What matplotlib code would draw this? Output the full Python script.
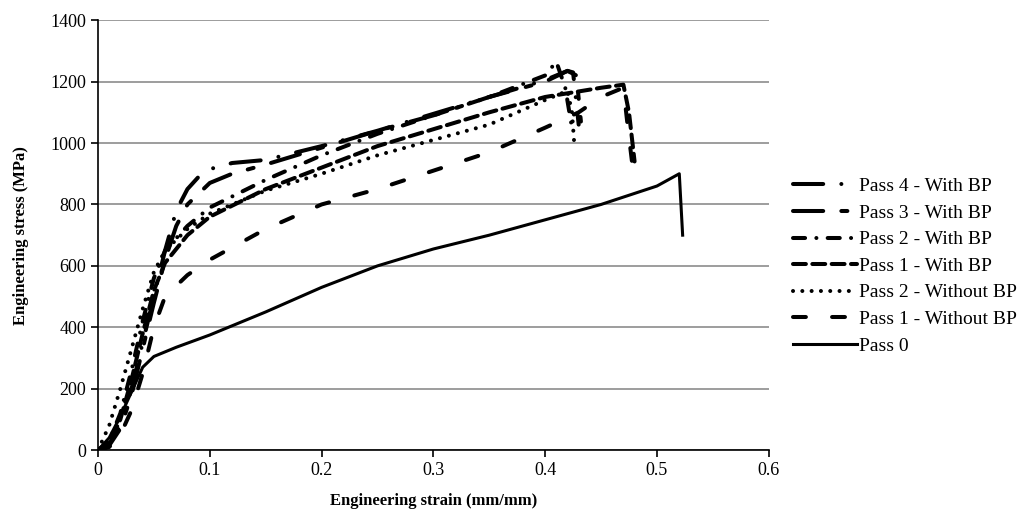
import numpy as np
import matplotlib.pyplot as plt

plt.rcParams['font.family'] = ['Liberation Serif', 'DejaVu Serif']

# data (strain mm/mm, stress MPa)
labels = ['Pass 4 - With BP', 'Pass 3 - With BP', 'Pass 2 - With BP',
          'Pass 1 - With BP', 'Pass 2 - Without BP', 'Pass 1 - Without BP',
          'Pass 0']

p4_x = [0, 0.01, 0.02, 0.03, 0.04, 0.05, 0.06, 0.07, 0.08, 0.09, 0.1, 0.12,
        0.15, 0.2, 0.25, 0.3, 0.35, 0.4, 0.42, 0.425, 0.43]
p4_y = [0, 20, 80, 200, 350, 500, 650, 780, 850, 890, 915, 935,
        945, 990, 1040, 1095, 1150, 1205, 1235, 1230, 1060]

p3_x = [0, 0.01, 0.02, 0.03, 0.04, 0.05, 0.06, 0.07, 0.08, 0.1, 0.12, 0.15,
        0.2, 0.25, 0.3, 0.35, 0.4, 0.42, 0.428, 0.432]
p3_y = [0, 15, 70, 180, 330, 480, 620, 730, 800, 870, 900, 930,
        985, 1040, 1090, 1150, 1200, 1235, 1220, 1070]

p2wb_x = [0, 0.01, 0.02, 0.03, 0.04, 0.05, 0.06, 0.08, 0.1, 0.15, 0.2, 0.25,
          0.3, 0.35, 0.4, 0.41, 0.418, 0.424]
p2wb_y = [0, 30, 120, 260, 420, 560, 650, 730, 790, 880, 960, 1030,
          1090, 1150, 1220, 1265, 1180, 1050]

p1wb_x = [0, 0.01, 0.02, 0.03, 0.04, 0.05, 0.06, 0.08, 0.1, 0.15, 0.2, 0.25,
          0.3, 0.35, 0.4, 0.45, 0.47, 0.475, 0.48]
p1wb_y = [0, 20, 100, 230, 380, 520, 610, 700, 760, 850, 920, 990,
          1045, 1100, 1150, 1180, 1190, 1100, 940]

p2nb_x = [0, 0.01, 0.02, 0.03, 0.04, 0.05, 0.06, 0.08, 0.1, 0.15, 0.2, 0.25,
          0.3, 0.35, 0.4, 0.42, 0.424, 0.426]
p2nb_y = [0, 80, 200, 330, 460, 580, 650, 720, 770, 845, 900, 960,
          1010, 1060, 1140, 1170, 1100, 1000]

p1nb_x = [0, 0.01, 0.02, 0.03, 0.04, 0.05, 0.06, 0.08, 0.1, 0.15, 0.2, 0.25,
          0.3, 0.35, 0.4, 0.43, 0.45, 0.47, 0.474, 0.478]
p1nb_y = [0, 10, 50, 130, 250, 400, 500, 570, 620, 720, 800, 850,
          910, 970, 1050, 1100, 1150, 1180, 1050, 930]

p0_x = [0, 0.01, 0.02, 0.03, 0.04, 0.05, 0.07, 0.1, 0.15, 0.2, 0.25, 0.3,
        0.35, 0.4, 0.45, 0.5, 0.52, 0.523]
p0_y = [0, 40, 110, 190, 270, 305, 335, 375, 450, 530, 600, 655,
        700, 750, 800, 860, 900, 700]

series = [(p4_x, p4_y), (p3_x, p3_y), (p2wb_x, p2wb_y), (p1wb_x, p1wb_y),
          (p2nb_x, p2nb_y), (p1nb_x, p1nb_y), (p0_x, p0_y)]
dash_list = [(7.5, 4.5, 0.01, 4.5), (7.5, 4.5, 1.5, 4.5), (3, 2.8, 0.01, 2.8),
             (3.2, 1.6), (0.01, 2.3), (3.2, 6.5), None]

fig = plt.figure(figsize=(10.24, 5.18), dpi=100)
ax = fig.add_axes([0.0957, 0.131, 0.655, 0.830])

for (x, y), lab, d in zip(series, labels, dash_list):
    if d is None:
        ax.plot(x, y, color='black', lw=2.2, label=lab)
    else:
        ax.plot(x, y, color='black', lw=2.9, label=lab, dashes=d,
                dash_capstyle='round')

ax.set_xlim(0, 0.6)
ax.set_ylim(0, 1400)
ax.set_xticks(np.arange(0, 0.61, 0.1))
ax.set_xticklabels(['0', '0.1', '0.2', '0.3', '0.4', '0.5', '0.6'])
ax.set_yticks(np.arange(0, 1401, 200))
ax.yaxis.grid(True, color='#8c8c8c', lw=1.2)
ax.set_axisbelow(True)
for s in ['top', 'right']:
    ax.spines[s].set_visible(False)
ax.spines['left'].set_linewidth(1.2)
ax.spines['bottom'].set_linewidth(1.2)
ax.tick_params(labelsize=13, length=5, width=1.2, direction='out')
ax.set_xlabel('Engineering strain (mm/mm)', fontsize=12, fontweight='bold',
              labelpad=10)
ax.set_ylabel('Engineering stress (MPa)', fontsize=12, fontweight='bold',
              labelpad=15)

ax.legend(loc='center left', bbox_to_anchor=(1.01, 0.428), frameon=False,
          fontsize=14, handlelength=3.3, handletextpad=0.1, labelspacing=0.46)

fig.savefig('out.png', dpi=100)
